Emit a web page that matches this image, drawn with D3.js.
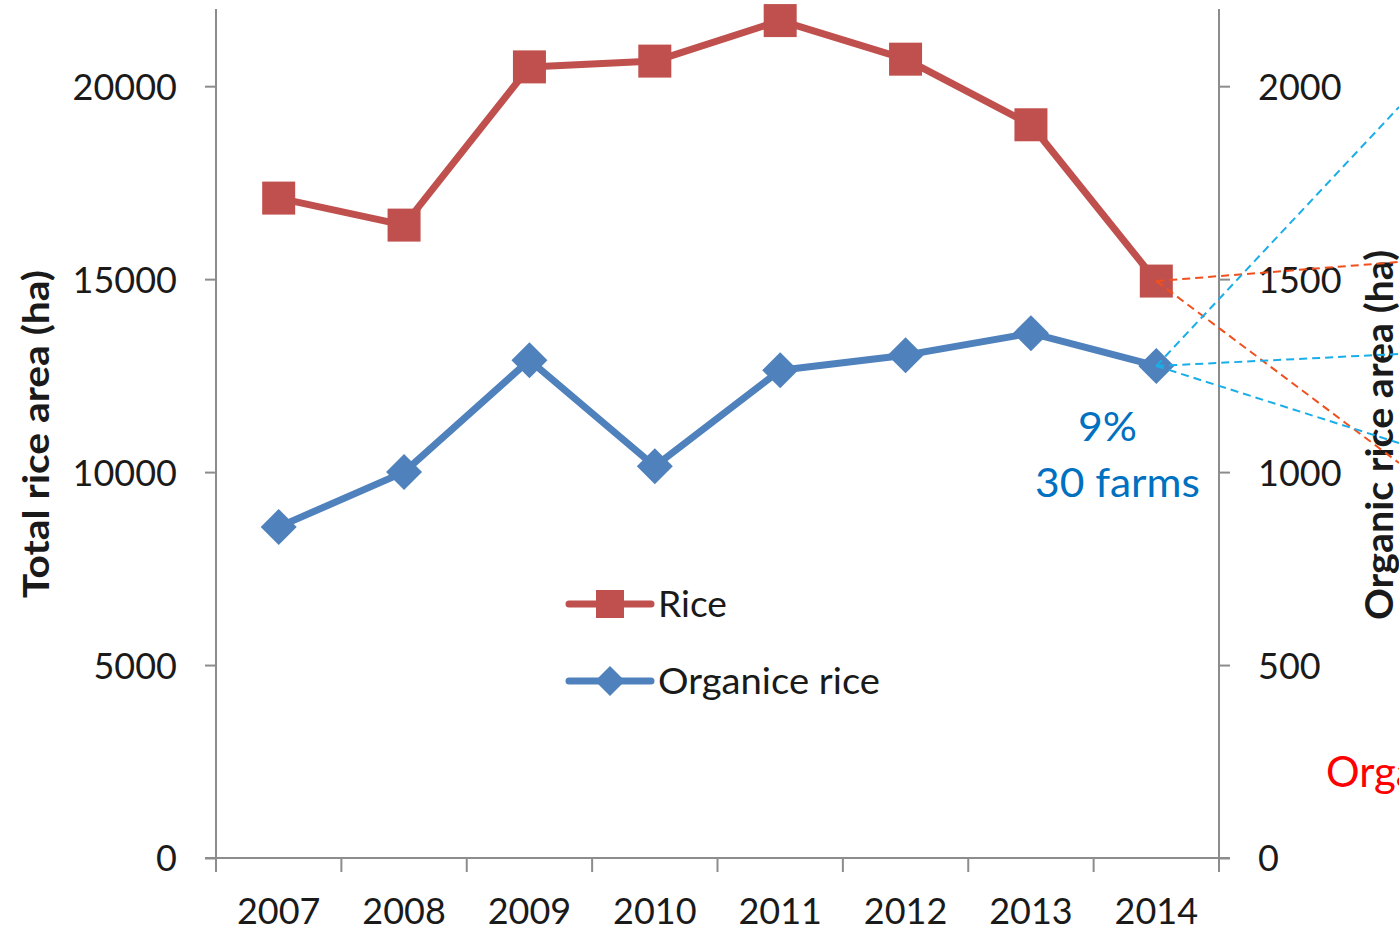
<!DOCTYPE html>
<html>
<head>
<meta charset="utf-8">
<script src="https://cdn.jsdelivr.net/npm/d3@7"></script>
<style>
  html, body { margin: 0; padding: 0; background: #fff; overflow: hidden; }
  svg { display: block; }
  text { font-family: Lato, "Open Sans", sans-serif; fill: #1a1a1a; }
</style>
</head>
<body>
<svg id="chart" width="1399" height="931"></svg>
<script>
// Years on the category axis
const years = ["2007", "2008", "2009", "2010", "2011", "2012", "2013", "2014"];
// Total rice area (ha), left axis
const riceArea = [17100, 16400, 20500, 20650, 21700, 20700, 19000, 14950];
// Organic rice area (ha), right axis
const organicArea = [858, 1000, 1290, 1015, 1264, 1303, 1360, 1275];
// Tick values
const leftTicks = [0, 5000, 10000, 15000, 20000];
const rightTicks = [0, 500, 1000, 1500, 2000];

const svg = d3.select("#chart");
const plot = { left: 216, right: 1219, top: 9, bottom: 858 };

const axisColor = "#8c8c8c";
const riceColor = "#C0504D";
const orgColor = "#4F81BD";

const x = d3.scaleBand().domain(years).range([plot.left, plot.right]).padding(0);
const cx = d => x(d) + x.bandwidth() / 2;
const yL = d3.scaleLinear().domain([0, 22000]).range([plot.bottom, plot.top]);
const yR = d3.scaleLinear().domain([0, 2200]).range([plot.bottom, plot.top]);

// ---- axes ----
const gAx = svg.append("g");

const leftAxis = gAx.append("g").attr("transform", `translate(${plot.left},0)`)
  .call(d3.axisLeft(yL).tickValues(leftTicks).tickSize(11).tickPadding(28).tickFormat(d3.format("d")));
const rightAxis = gAx.append("g").attr("transform", `translate(${plot.right},0)`)
  .call(d3.axisRight(yR).tickValues(rightTicks).tickSize(11).tickPadding(28).tickFormat(d3.format("d")));
const bottomAxis = gAx.append("g").attr("transform", `translate(0,${plot.bottom})`)
  .call(d3.axisBottom(x).tickSize(0).tickPadding(56));

[leftAxis, rightAxis].forEach(g => {
  g.select(".domain").attr("d", `M0,${plot.top}V${plot.bottom + 14}`)
    .attr("stroke", axisColor).attr("stroke-width", 2);
  g.selectAll(".tick line").attr("stroke", axisColor).attr("stroke-width", 2);
  g.selectAll(".tick text").attr("font-size", 36).attr("fill", "#1a1a1a")
    .attr("font-family", "Lato, sans-serif").attr("dy", "0.36em");
});
bottomAxis.select(".domain").attr("d", `M${plot.left - 11},0H${plot.right + 11}`)
  .attr("stroke", axisColor).attr("stroke-width", 2);
bottomAxis.selectAll(".tick text").attr("font-size", 36).attr("fill", "#1a1a1a")
  .attr("font-family", "Lato, sans-serif").attr("dy", 0).attr("y", 66);

// category boundary ticks
const bounds = years.map(d => x(d)).concat([plot.right]);
bottomAxis.selectAll("line.bnd").data(bounds).join("line")
  .attr("class", "bnd")
  .attr("x1", d => d).attr("x2", d => d)
  .attr("y1", 0).attr("y2", 14)
  .attr("stroke", axisColor).attr("stroke-width", 2);

// axis titles
svg.append("text")
  .attr("transform", `translate(49,${(270 + 598) / 2}) rotate(-90)`)
  .attr("text-anchor", "middle")
  .attr("font-size", 37).attr("font-weight", 700)
  .attr("textLength", 328).attr("lengthAdjust", "spacingAndGlyphs")
  .text("Total rice area (ha)");
svg.append("text")
  .attr("transform", `translate(1393,${(250 + 620) / 2}) rotate(-90)`)
  .attr("text-anchor", "middle")
  .attr("font-size", 38).attr("font-weight", 700)
  .attr("textLength", 370).attr("lengthAdjust", "spacingAndGlyphs")
  .text("Organic rice area (ha)");

// ---- connector lines from the 2014 points ----
const last = years[years.length - 1];
const riceEnd = { x: cx(last), y: yL(riceArea[riceArea.length - 1]) };
const orgEnd = { x: cx(last), y: yR(organicArea[organicArea.length - 1]) };
const connectors = [
  { from: riceEnd, to: [1399, 262], color: "#F0501E" },
  { from: riceEnd, to: [1399, 463], color: "#F0501E" },
  { from: orgEnd, to: [1399, 107], color: "#1AAEE8" },
  { from: orgEnd, to: [1399, 354], color: "#1AAEE8" },
  { from: orgEnd, to: [1399, 443], color: "#1AAEE8" }
];

// ---- series ----
const line = (scale) => d3.line().x((d, i) => cx(years[i])).y(d => scale(d));

svg.append("path").datum(riceArea)
  .attr("d", line(yL)).attr("fill", "none")
  .attr("stroke", riceColor).attr("stroke-width", 7).attr("stroke-linejoin", "round");
svg.selectAll("rect.rice").data(riceArea).join("rect")
  .attr("class", "rice")
  .attr("x", (d, i) => cx(years[i]) - 16.5).attr("y", d => yL(d) - 16.5)
  .attr("width", 33).attr("height", 33).attr("fill", riceColor);

svg.append("path").datum(organicArea)
  .attr("d", line(yR)).attr("fill", "none")
  .attr("stroke", orgColor).attr("stroke-width", 7).attr("stroke-linejoin", "round");
svg.selectAll("path.org").data(organicArea).join("path")
  .attr("class", "org")
  .attr("transform", (d, i) => `translate(${cx(years[i])},${yR(d)})`)
  .attr("d", "M0,-18L18,0L0,18L-18,0Z").attr("fill", orgColor);

svg.selectAll("line.conn").data(connectors).join("line")
  .attr("class", "conn")
  .attr("x1", d => d.from.x).attr("y1", d => d.from.y)
  .attr("x2", d => d.to[0]).attr("y2", d => d.to[1])
  .attr("stroke", d => d.color).attr("stroke-width", 2)
  .attr("stroke-dasharray", "8,5");

// ---- legend ----
const legend = svg.append("g");
const legendItems = [
  { label: "Rice", color: riceColor, shape: "square", y: 604, len: 69 },
  { label: "Organice rice", color: orgColor, shape: "diamond", y: 681, len: 222 }
];
legendItems.forEach(it => {
  legend.append("line").attr("x1", 569).attr("x2", 651)
    .attr("y1", it.y).attr("y2", it.y)
    .attr("stroke", it.color).attr("stroke-width", 7).attr("stroke-linecap", "round");
  if (it.shape === "square") {
    legend.append("rect").attr("x", 596).attr("y", it.y - 14)
      .attr("width", 28).attr("height", 28).attr("fill", it.color);
  } else {
    legend.append("path").attr("transform", `translate(610,${it.y})`)
      .attr("d", "M0,-15L15,0L0,15L-15,0Z").attr("fill", it.color);
  }
  legend.append("text").attr("x", 658).attr("y", it.y + 13)
    .attr("font-size", 36)
    .attr("textLength", it.len).attr("lengthAdjust", "spacingAndGlyphs")
    .text(it.label);
});

// ---- annotations ----
svg.append("text").attr("x", 1078).attr("y", 441)
  .attr("font-size", 41).style("fill", "#0070C0")
  .attr("textLength", 59).attr("lengthAdjust", "spacingAndGlyphs").text("9%");
svg.append("text").attr("x", 1035).attr("y", 497)
  .attr("font-size", 41).style("fill", "#0070C0")
  .attr("textLength", 165).attr("lengthAdjust", "spacingAndGlyphs").text("30 farms");
svg.append("text").attr("x", 1326).attr("y", 787)
  .attr("font-size", 42).style("fill", "#FF0000").text("Organic");
</script>
</body>
</html>
